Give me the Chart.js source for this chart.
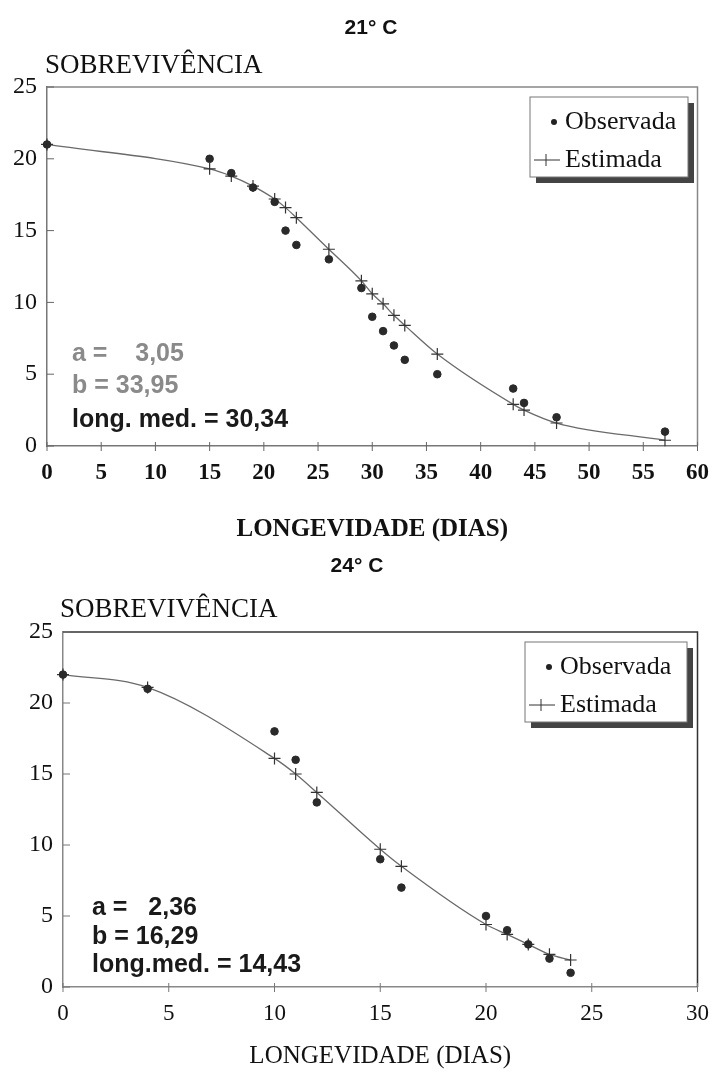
<!DOCTYPE html>
<html>
<head>
<meta charset="utf-8">
<script src="https://cdn.jsdelivr.net/npm/chart.js@4.4.1/dist/chart.umd.min.js"></script>
<style>
  body { margin: 0; background: #fff; }
  .box { position: absolute; left: 0; width: 722px; }
</style>
</head>
<body>
<div class="box" style="top:0;height:545px"><canvas id="c21"></canvas></div>
<div class="box" style="top:540px;height:535px"><canvas id="c24"></canvas></div>
<script>
// 21° C
const dias21 = [0, 15, 17, 19, 21, 22, 23, 26, 29, 30, 31, 32, 33, 36, 43, 44, 47, 57];
const obs21  = [21, 20, 19, 18, 17, 15, 14, 13, 11, 9, 8, 7, 6, 5, 4, 3, 2, 1];
const est21  = [21.0, 19.3, 18.8, 18.1, 17.2, 16.6, 15.9, 13.7, 11.5, 10.6, 9.9, 9.1, 8.4, 6.4, 2.9, 2.5, 1.6, 0.4];
const xTicks21 = [0, 5, 10, 15, 20, 25, 30, 35, 40, 45, 50, 55, 60];

// 24° C
const dias24 = [0, 4, 10, 11, 12, 15, 16, 20, 21, 22, 23, 24];
const obs24  = [22, 21, 18, 16, 13, 9, 7, 5, 4, 3, 2, 1];
const est24  = [22.0, 21.1, 16.1, 15.0, 13.7, 9.7, 8.5, 4.4, 3.7, 3.0, 2.3, 1.9];
const xTicks24 = [0, 5, 10, 15, 20, 25, 30];

const yTicks = [0, 5, 10, 15, 20, 25];

const SERIF = '"Liberation Serif", "Times New Roman", serif';
const SANS = '"Liberation Sans", Arial, sans-serif';

function txt(ctx, s, x, y, font, color, align) {
  ctx.font = font;
  ctx.fillStyle = color;
  ctx.textAlign = align || 'left';
  ctx.textBaseline = 'middle';
  ctx.fillText(s, x, y);
}

function line(ctx, x1, y1, x2, y2) {
  ctx.beginPath();
  ctx.moveTo(x1, y1);
  ctx.lineTo(x2, y2);
  ctx.stroke();
}

const decor = {
  id: 'decor',
  afterDraw(chart, args, o) {
    const { ctx, chartArea: a, scales: { x, y } } = chart;
    ctx.save();

    // top and right frame
    ctx.strokeStyle = o.frameColor;
    ctx.lineWidth = 1.5;
    ctx.beginPath();
    ctx.moveTo(a.left, a.top);
    ctx.lineTo(a.right, a.top);
    ctx.lineTo(a.right, a.bottom);
    ctx.stroke();

    // tick marks (inside on y, crossing on x)
    ctx.strokeStyle = o.axisColor;
    ctx.lineWidth = 1;
    y.ticks.forEach(t => {
      const py = y.getPixelForValue(t.value);
      line(ctx, a.left, py, a.left + 7, py);
    });
    x.ticks.forEach(t => {
      const px = x.getPixelForValue(t.value);
      line(ctx, px, a.bottom - 4, px, a.bottom + 5);
    });

    // title and y label
    txt(ctx, o.title, o.titleX, o.titleY, 'bold 21px ' + SANS, '#111', 'center');
    txt(ctx, 'SOBREVIVÊNCIA', o.ylabX, o.ylabY, '27px ' + SERIF, '#111', 'left');

    // legend box with shadow
    const L = o.legend;
    ctx.fillStyle = '#444';
    ctx.fillRect(L.x + 6, L.y + 6, L.w, L.h);
    ctx.fillStyle = '#fff';
    ctx.fillRect(L.x, L.y, L.w, L.h);
    ctx.strokeStyle = '#777';
    ctx.lineWidth = 1;
    ctx.strokeRect(L.x, L.y, L.w, L.h);
    ctx.fillStyle = '#222';
    ctx.beginPath();
    ctx.arc(L.x + 24, L.y + 25, 3, 0, Math.PI * 2);
    ctx.fill();
    ctx.strokeStyle = '#333';
    line(ctx, L.x + 4, L.y + 63, L.x + 30, L.y + 63);
    line(ctx, L.x + 16, L.y + 57, L.x + 16, L.y + 69);
    txt(ctx, 'Observada', L.x + 35, L.y + 25, '26px ' + SERIF, '#111', 'left');
    txt(ctx, 'Estimada', L.x + 35, L.y + 63, '26px ' + SERIF, '#111', 'left');

    // parameter text
    o.params.forEach(p => {
      txt(ctx, p.text, o.paramX, p.y, 'bold 25px ' + SANS, p.color, 'left');
    });

    ctx.restore();
  }
};

function makeChart(id, dias, obs, est, xTicks, xMax, cfg) {
  const obsPts = dias.map((d, i) => ({ x: d, y: obs[i] }));
  const estPts = dias.map((d, i) => ({ x: d, y: est[i] }));
  return new Chart(document.getElementById(id), {
    type: 'scatter',
    data: {
      datasets: [
        {
          label: 'Observada',
          data: obsPts,
          pointStyle: 'circle',
          pointRadius: 3.8,
          backgroundColor: '#2a2a2a',
          borderColor: '#2a2a2a',
          clip: false
        },
        {
          label: 'Estimada',
          data: estPts,
          showLine: true,
          cubicInterpolationMode: 'monotone',
          borderColor: '#6a6a6a',
          borderWidth: 1.3,
          pointStyle: 'cross',
          pointRadius: 6,
          pointBorderColor: '#333',
          pointBorderWidth: 1.2,
          clip: false
        }
      ]
    },
    options: {
      responsive: true,
      maintainAspectRatio: false,
      animation: false,
      layout: { padding: { left: 0, right: cfg.padRight, top: cfg.padTop, bottom: 0 } },
      plugins: {
        legend: { display: false },
        tooltip: { enabled: false },
        decor: cfg.decor
      },
      scales: {
        x: {
          type: 'linear',
          min: 0,
          max: xMax,
          afterFit: s => { s.height = cfg.xHeight; },
          afterBuildTicks: s => { s.ticks = xTicks.map(v => ({ value: v })); },
          grid: { drawOnChartArea: false, drawTicks: false },
          border: { color: cfg.axisColor, width: 1.5 },
          ticks: { padding: cfg.xTickPad, color: '#111', font: { family: SERIF, size: 23, weight: cfg.xBold ? 'bold' : 'normal' } },
          title: {
            display: true,
            text: 'LONGEVIDADE (DIAS)',
            color: '#111',
            padding: { top: 0, bottom: cfg.xTitlePad },
            font: { family: SERIF, size: 25, weight: cfg.xBold ? 'bold' : 'normal' }
          }
        },
        y: {
          type: 'linear',
          min: 0,
          max: 25,
          afterFit: s => { s.width = cfg.yWidth; },
          afterBuildTicks: s => { s.ticks = yTicks.map(v => ({ value: v })); },
          grid: { drawOnChartArea: false, drawTicks: false },
          border: { color: cfg.axisColor, width: 1.5 },
          ticks: { padding: 10, color: '#111', font: { family: SERIF, size: 24 } }
        }
      }
    },
    plugins: [decor]
  });
}

makeChart('c21', dias21, obs21, est21, xTicks21, 60, {
  padRight: 15, padTop: 87, xHeight: 99, yWidth: 47, xTickPad: 13, xTitlePad: 0, xBold: true,
  axisColor: '#777',
  decor: {
    frameColor: '#888', axisColor: '#666',
    title: '21° C', titleX: 371, titleY: 28,
    ylabX: 45, ylabY: 66,
    legend: { x: 530, y: 97, w: 158, h: 80 },
    paramX: 72,
    params: [
      { text: 'a =    3,05', y: 354, color: '#8a8a8a' },
      { text: 'b = 33,95', y: 386, color: '#8a8a8a' },
      { text: 'long. med. = 30,34', y: 420, color: '#1a1a1a' }
    ]
  }
});

makeChart('c24', dias24, obs24, est24, xTicks24, 30, {
  padRight: 15, padTop: 92, xHeight: 88, yWidth: 63, xTickPad: 13, xTitlePad: 4, xBold: false,
  axisColor: '#888',
  decor: {
    frameColor: '#333', axisColor: '#777',
    title: '24° C', titleX: 357, titleY: 26,
    ylabX: 60, ylabY: 70,
    legend: { x: 525, y: 102, w: 162, h: 80 },
    paramX: 92,
    params: [
      { text: 'a =   2,36', y: 368, color: '#1a1a1a' },
      { text: 'b = 16,29', y: 397, color: '#1a1a1a' },
      { text: 'long.med. = 14,43', y: 425, color: '#1a1a1a' }
    ]
  }
});
</script>
</body>
</html>
